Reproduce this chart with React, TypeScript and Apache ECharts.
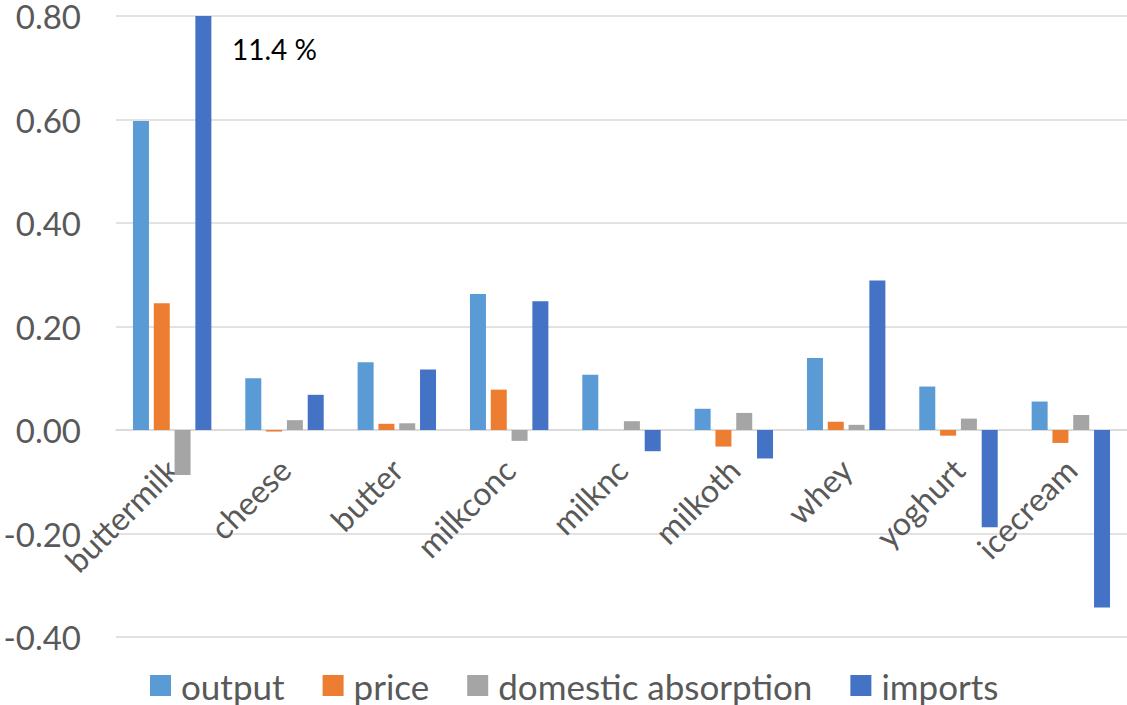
import React, { useEffect, useRef } from "react";
import * as echarts from "echarts";

const categories = ["buttermilk", "cheese", "butter", "milkconc", "milknc", "milkoth", "whey", "yoghurt", "icecream"];
const seriesNames = ["output", "price", "domestic absorption", "imports"];
const outputValues = [0.597, 0.1, 0.131, 0.263, 0.107, 0.041, 0.139, 0.084, 0.055];
const priceValues = [0.245, -0.003, 0.012, 0.078, 0, -0.032, 0.016, -0.011, -0.025];
const absorptionValues = [-0.087, 0.019, 0.013, -0.021, 0.017, 0.033, 0.01, 0.022, 0.029];
const importsValues = [11.4, 0.068, 0.117, 0.249, -0.041, -0.055, 0.289, -0.188, -0.343];
const colors = ["#5B9BD5", "#ED7D31", "#A5A5A5", "#4472C4"];
const yMin = -0.4;
const yMax = 0.8;
const yInterval = 0.2;
const overflowLabel = importsValues[0].toFixed(1) + " %";

const FONT = "Lato";
const GRID_TOP = 16;
const GRID_BOTTOM = 68;
const HEIGHT = 705;

export default function App() {
  const ref = useRef<HTMLDivElement>(null);
  useEffect(() => {
    document.body.style.margin = "0";
    const chart = echarts.init(ref.current!, null, { renderer: "svg" });
    const all = [outputValues, priceValues, absorptionValues, importsValues];
    const plotHeight = HEIGHT - GRID_TOP - GRID_BOTTOM;
    const zeroOffset = -((0 - yMin) / (yMax - yMin)) * plotHeight;
    chart.setOption({
      animation: false,
      color: colors,
      textStyle: { fontFamily: FONT },
      grid: {
        left: 116,
        right: 0,
        top: GRID_TOP,
        bottom: GRID_BOTTOM,
        containLabel: false,
        outerBoundsMode: "none",
      },
      legend: {
        data: seriesNames,
        left: 150,
        top: 668,
        padding: 0,
        icon: "rect",
        itemWidth: 21,
        itemHeight: 21,
        itemGap: 38,
        textStyle: {
          fontSize: 35,
          lineHeight: 30,
          color: "#595959",
          fontFamily: FONT,
          padding: [0, 0, 0, 5],
        },
      },
      xAxis: {
        type: "category",
        data: categories,
        position: "bottom",
        offset: zeroOffset,
        axisLine: { onZero: false, lineStyle: { color: "#D9D9D9", width: 1.5 } },
        axisTick: { show: false },
        axisLabel: {
          interval: 0,
          rotate: 45,
          margin: 34,
          fontSize: 32,
          color: "#595959",
          fontFamily: FONT,
        },
      },
      yAxis: {
        type: "value",
        min: yMin,
        max: yMax,
        interval: yInterval,
        axisLine: { show: false },
        axisTick: { show: false },
        splitLine: { lineStyle: { color: "#D9D9D9", width: 1.5 } },
        axisLabel: {
          margin: 35,
          fontSize: 33,
          lineHeight: 26,
          color: "#595959",
          fontFamily: FONT,
          formatter: (v: number) => v.toFixed(2),
        },
      },
      graphic: [
        {
          type: "text",
          left: 232,
          top: 35,
          style: { text: overflowLabel, fontSize: 28, fill: "#000000", fontFamily: FONT },
        },
      ],
      series: seriesNames.map((name, i) => ({
        name,
        type: "bar",
        data: all[i],
        barWidth: 16,
        barGap: "30%",
        clip: true,
        itemStyle: { color: colors[i] },
      })),
    });
    return () => chart.dispose();
  }, []);
  return <div ref={ref} style={{ width: 1127, height: HEIGHT }} />;
}
